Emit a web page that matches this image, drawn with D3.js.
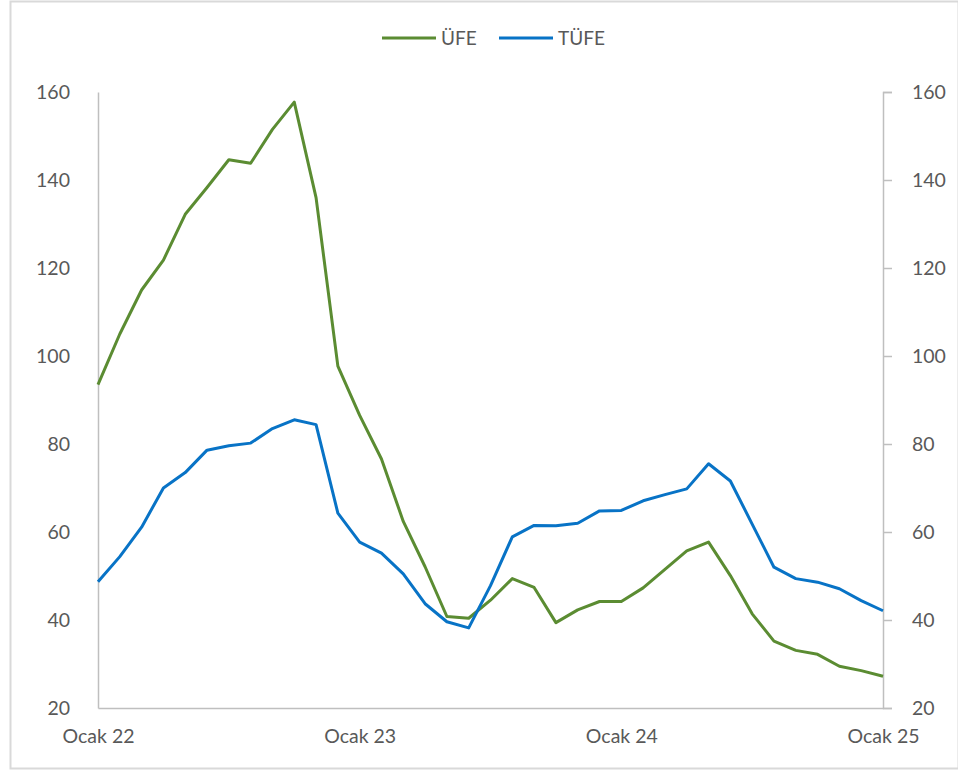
<!DOCTYPE html>
<html>
<head>
<meta charset="utf-8">
<script src="https://cdn.jsdelivr.net/npm/d3@7"></script>
<style>
  body { margin: 0; background: #fff; }
  text { font-family: Lato, "Open Sans", sans-serif; fill: #595959; }
</style>
</head>
<body>
<svg id="chart"></svg>
<script>
// Months Jan 2022 .. Jan 2025 (annual % change)
const months = d3.range(37);
const xLabels = [
  { i: 0, label: "Ocak 22" },
  { i: 12, label: "Ocak 23" },
  { i: 24, label: "Ocak 24" },
  { i: 36, label: "Ocak 25" }
];
const ufe = [93.5, 105.0, 115.0, 121.8, 132.2, 138.3, 144.6, 143.8, 151.5, 157.7, 136.0, 97.7,
  86.5, 76.6, 62.4, 52.1, 40.8, 40.4, 44.5, 49.4, 47.4, 39.4, 42.3, 44.2,
  44.2, 47.3, 51.5, 55.7, 57.7, 50.1, 41.4, 35.2, 33.1, 32.2, 29.5, 28.5, 27.2];
const tufe = [48.7, 54.4, 61.1, 70.0, 73.5, 78.6, 79.6, 80.2, 83.5, 85.5, 84.4, 64.3,
  57.7, 55.2, 50.5, 43.7, 39.6, 38.2, 47.8, 58.9, 61.5, 61.4, 62.0, 64.8,
  64.9, 67.1, 68.5, 69.8, 75.5, 71.6, 61.8, 52.0, 49.4, 48.6, 47.1, 44.4, 42.1];
const yTicks = [20, 40, 60, 80, 100, 120, 140, 160];
const series = [
  { name: "ÜFE", values: ufe, color: "#5B8C32" },
  { name: "TÜFE", values: tufe, color: "#0873C6" }
];

const W = 958, H = 771;
const svg = d3.select("#chart").attr("width", W).attr("height", H);

// outer frame
svg.append("rect")
  .attr("x", 10.5).attr("y", 1.5)
  .attr("width", W - 10).attr("height", 767)
  .attr("fill", "none").attr("stroke", "#d9d9d9").attr("stroke-width", 2);

const x = d3.scaleLinear().domain([0, 36]).range([98, 883]);
const y = d3.scaleLinear().domain([20, 160]).range([708, 92]);

// left axis
svg.append("g")
  .attr("transform", "translate(98,0)")
  .call(d3.axisLeft(y).tickValues(yTicks).tickSize(0).tickPadding(28))
  .call(g => g.select(".domain").attr("stroke", "#bfbfbf").attr("stroke-width", 1.5));

// right axis
svg.append("g")
  .attr("transform", "translate(883,0)")
  .call(d3.axisRight(y).tickValues(yTicks).tickSize(9).tickPadding(20))
  .call(g => g.select(".domain").attr("stroke", "#bfbfbf").attr("stroke-width", 1.5))
  .call(g => g.selectAll(".tick line").attr("stroke", "#bfbfbf").attr("stroke-width", 1.5));

// bottom axis
svg.append("g")
  .attr("transform", "translate(0,708)")
  .call(d3.axisBottom(x).tickValues(xLabels.map(d => d.i))
    .tickFormat(i => xLabels.find(d => d.i === i).label)
    .tickSize(0).tickPadding(21))
  .call(g => g.select(".domain").attr("stroke", "#bfbfbf").attr("stroke-width", 1.5));

svg.selectAll(".tick text").attr("font-size", 19.5).attr("fill", "#595959");

// lines
const line = d3.line()
  .x((d, i) => x(months[i]))
  .y(d => y(d));

series.forEach(s => {
  svg.append("path")
    .datum(s.values)
    .attr("fill", "none")
    .attr("stroke", s.color)
    .attr("stroke-width", 3)
    .attr("stroke-linejoin", "round")
    .attr("d", line);
});

// legend
const legend = svg.append("g").attr("transform", "translate(382,38)");
const items = legend.selectAll("g").data(series).enter().append("g")
  .attr("transform", (d, i) => `translate(${i * 117},0)`);
items.append("line")
  .attr("x1", 0).attr("x2", 54)
  .attr("stroke", d => d.color).attr("stroke-width", 3);
items.append("text")
  .attr("x", 59).attr("dy", "0.35em")
  .attr("font-size", 19)
  .text(d => d.name);
</script>
</body>
</html>
